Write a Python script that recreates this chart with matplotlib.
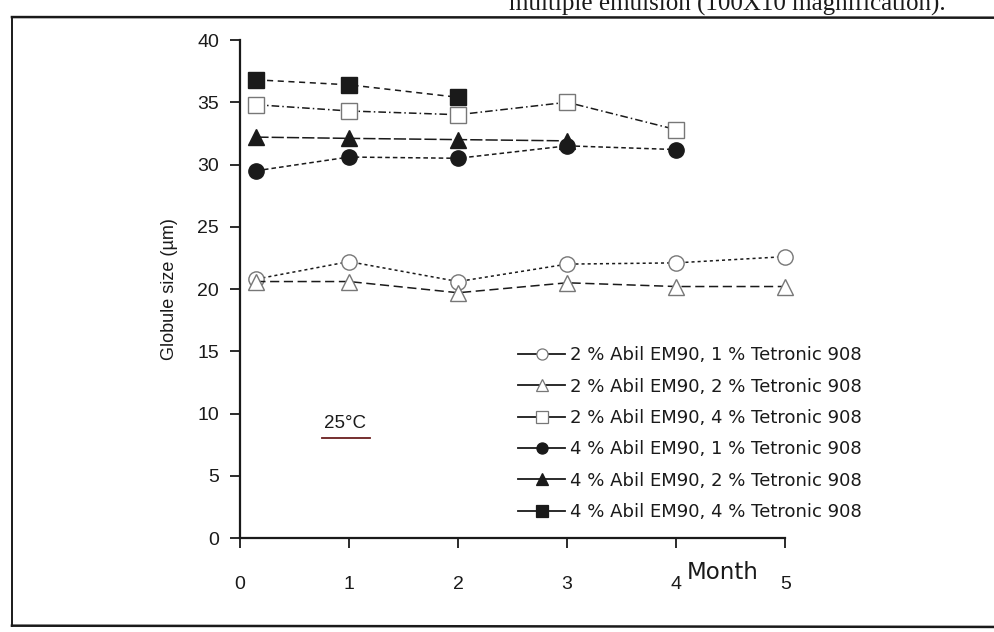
import matplotlib
matplotlib.use("Agg")
import matplotlib.pyplot as plt
from matplotlib.lines import Line2D

plt.rcParams["font.family"] = ["Liberation Sans", "DejaVu Sans"]

# months (first sampling point sits just after 0)
months = [0.15, 1, 2, 3, 4, 5]

labels = [
    "2 % Abil EM90, 1 % Tetronic 908",
    "2 % Abil EM90, 2 % Tetronic 908",
    "2 % Abil EM90, 4 % Tetronic 908",
    "4 % Abil EM90, 1 % Tetronic 908",
    "4 % Abil EM90, 2 % Tetronic 908",
    "4 % Abil EM90, 4 % Tetronic 908",
]

abil2_tet1 = [20.8, 22.2, 20.6, 22.0, 22.1, 22.6]
abil2_tet2 = [20.6, 20.6, 19.7, 20.5, 20.2, 20.2]
abil2_tet4 = [34.8, 34.3, 34.0, 35.0, 32.8]
abil4_tet1 = [29.5, 30.6, 30.5, 31.5, 31.2]
abil4_tet2 = [32.2, 32.1, 32.0, 31.9]
abil4_tet4 = [36.8, 36.4, 35.4]

series = [abil2_tet1, abil2_tet2, abil2_tet4, abil4_tet1, abil4_tet2, abil4_tet4]
markers = ["o", "^", "s", "o", "^", "s"]
filled = [False, False, False, True, True, True]
dashes = [(2, 2), (6, 3), (5, 2, 1, 2), (3, 2), (8, 2), (4, 3)]

INK = "#1a1a1a"

fig = plt.figure(figsize=(9.95, 6.32), dpi=100)
ax = fig.add_axes([0.2412, 0.1487, 0.548, 0.788])

handles = []
for vals, lab, mk, fl, ds in zip(series, labels, markers, filled, dashes):
    face = INK if fl else "white"
    edge = INK if fl else "#777777"
    ax.plot(months[:len(vals)], vals, color=INK, lw=1.1, dashes=ds,
            marker=mk, markersize=11, markerfacecolor=face,
            markeredgecolor=edge, markeredgewidth=1.0, clip_on=False)
    handles.append(Line2D([], [], color=INK, lw=1.3, marker=mk, markersize=8,
                          markerfacecolor=face, markeredgecolor=edge,
                          markeredgewidth=0.9, label=lab))

ax.set_xlim(0, 5)
ax.set_ylim(0, 40)
ax.set_xticks(range(6))
ax.set_yticks(range(0, 41, 5))
ax.tick_params(direction="out", length=7, width=1.3, labelsize=14,
               colors=INK)
ax.tick_params(axis="x", pad=20)
ax.tick_params(axis="y", pad=8)
for sp in ["top", "right"]:
    ax.spines[sp].set_visible(False)
for sp in ["left", "bottom"]:
    ax.spines[sp].set_linewidth(1.6)
    ax.spines[sp].set_color(INK)

ax.set_ylabel("Globule size (\u00b5m)", fontsize=13, color=INK, labelpad=14)
ax.text(4.1, -2.75, "Month", fontsize=16.5, color=INK, ha="left",
        va="center", family=["DejaVu Sans"])

ax.text(0.96, 9.2, "25\u00b0C", fontsize=13.5, color=INK, ha="center",
        va="center")
ax.plot([0.75, 1.19], [8.0, 8.0], color="#6a1f1f", lw=1.3, clip_on=False)

leg = ax.legend(handles=handles, loc="center left",
                bbox_to_anchor=(0.521, 0.314), bbox_transform=fig.transFigure,
                frameon=False, prop={"family": "DejaVu Sans", "size": 13},
                handlelength=2.6, handletextpad=0.28, labelspacing=0.74,
                borderpad=0, borderaxespad=0)
for t in leg.get_texts():
    t.set_color(INK)

# scan frame and cut-off caption
fig.add_artist(Line2D([0.012, 1.0], [0.973, 0.972], transform=fig.transFigure,
                      color=INK, lw=1.8))
fig.add_artist(Line2D([0.012, 0.012], [0.973, 0.01], transform=fig.transFigure,
                      color=INK, lw=1.4))
fig.add_artist(Line2D([0.012, 1.0], [0.01, 0.008], transform=fig.transFigure,
                      color=INK, lw=1.8))
fig.text(0.95, 1 - 11 / 632, "multiple emulsion (100X10 magnification).",
         family=["Liberation Serif", "DejaVu Serif"], fontsize=18,
         ha="right", va="baseline", color=INK)

fig.savefig("out.png", dpi=100, facecolor="white")
